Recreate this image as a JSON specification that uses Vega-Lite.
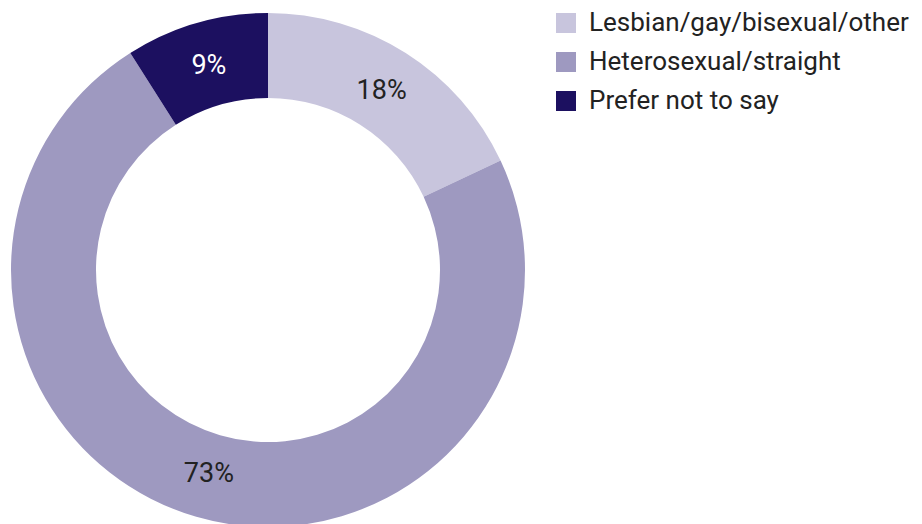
{
  "$schema": "https://vega.github.io/schema/vega-lite/v6.json",
  "width": 536,
  "height": 508,
  "padding": {"left": 0, "top": 16, "right": 386, "bottom": 0},
  "autosize": {"type": "none"},
  "background": "white",
  "config": {"view": {"stroke": null}, "font": "Roboto"},
  "data": {
    "values": [
      {"category": "Lesbian/gay/bisexual/other", "value": 18, "label": "18%", "order": 1, "textColor": "dark"},
      {"category": "Heterosexual/straight", "value": 73, "label": "73%", "order": 2, "textColor": "dark"},
      {"category": "Prefer not to say", "value": 9, "label": "9%", "order": 3, "textColor": "light"}
    ]
  },
  "encoding": {
    "theta": {"field": "value", "type": "quantitative", "stack": true},
    "order": {"field": "order", "type": "quantitative"}
  },
  "layer": [
    {
      "mark": {"type": "arc", "outerRadius": 257, "innerRadius": 172},
      "encoding": {
        "color": {
          "field": "category",
          "type": "nominal",
          "sort": ["Lesbian/gay/bisexual/other", "Heterosexual/straight", "Prefer not to say"],
          "scale": {
            "domain": ["Lesbian/gay/bisexual/other", "Heterosexual/straight", "Prefer not to say"],
            "range": ["#c8c5dd", "#9e99c0", "#1c1060"]
          },
          "legend": {
            "orient": "none",
            "legendX": 553,
            "legendY": -6,
            "title": null,
            "symbolType": "square",
            "symbolSize": 400,
            "symbolStrokeWidth": 0,
            "labelFontSize": 26,
            "labelFont": "Roboto",
            "labelColor": "#222222",
            "labelOffset": 10,
            "rowPadding": 13,
            "labelLimit": 400
          }
        }
      }
    },
    {
      "mark": {"type": "text", "radius": 212, "fontSize": 27, "font": "Roboto"},
      "encoding": {
        "text": {"field": "label"},
        "color": {
          "field": "textColor",
          "type": "nominal",
          "scale": {"domain": ["dark", "light"], "range": ["#222222", "#ffffff"]},
          "legend": null
        }
      }
    }
  ],
  "resolve": {"scale": {"color": "independent"}}
}
